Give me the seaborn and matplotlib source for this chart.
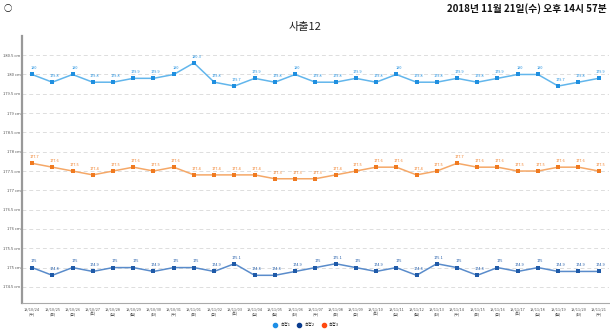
import matplotlib
matplotlib.use("Agg")
import matplotlib.pyplot as plt
import seaborn as sns
import pandas as pd
import numpy as np

dates = ["18/10/24\n(수)", "18/10/25\n(목)", "18/10/26\n(금)", "18/10/27\n(토)", "18/10/28\n(일)",
         "18/10/29\n(월)", "18/10/30\n(화)", "18/10/31\n(수)", "18/11/01\n(목)", "18/11/02\n(금)",
         "18/11/03\n(토)", "18/11/04\n(일)", "18/11/05\n(월)", "18/11/06\n(화)", "18/11/07\n(수)",
         "18/11/08\n(목)", "18/11/09\n(금)", "18/11/10\n(토)", "18/11/11\n(일)", "18/11/12\n(월)",
         "18/11/13\n(화)", "18/11/14\n(수)", "18/11/15\n(목)", "18/11/16\n(금)", "18/11/17\n(토)",
         "18/11/18\n(일)", "18/11/19\n(월)", "18/11/20\n(화)", "18/11/21\n(수)"]
series_names = ["측정1", "측정2", "측정3"]
s1 = [180, 179.8, 180, 179.8, 179.8, 179.9, 179.9, 180, 180.3, 179.8, 179.7, 179.9, 179.8, 180, 179.8,
      179.8, 179.9, 179.8, 180, 179.8, 179.8, 179.9, 179.8, 179.9, 180, 180, 179.7, 179.8, 179.9]
s2 = [175, 174.8, 175, 174.9, 175, 175, 174.9, 175, 175, 174.9, 175.1, 174.8, 174.8, 174.9, 175,
      175.1, 175, 174.9, 175, 174.8, 175.1, 175, 174.8, 175, 174.9, 175, 174.9, 174.9, 174.9]
s3 = [177.7, 177.6, 177.5, 177.4, 177.5, 177.6, 177.5, 177.6, 177.4, 177.4, 177.4, 177.4, 177.3, 177.3, 177.3,
      177.4, 177.5, 177.6, 177.6, 177.4, 177.5, 177.7, 177.6, 177.6, 177.5, 177.5, 177.6, 177.6, 177.5]
y_ticks = [174.5, 175, 175.5, 176, 176.5, 177, 177.5, 178, 178.5, 179, 179.5, 180, 180.5]

sns.set_style("white")
plt.rcParams['font.family'] = ['Noto Sans CJK KR', 'DejaVu Sans']

n = len(dates)
df = pd.DataFrame({
    "x": list(range(n)) * 3,
    "value": s1 + s2 + s3,
    "series": [series_names[0]] * n + [series_names[1]] * n + [series_names[2]] * n,
})

line_colors = {"측정1": "#62b6ec", "측정2": "#5a8ccb", "측정3": "#f5a868"}
marker_colors = {"측정1": "#1f8fe0", "측정2": "#1f5aa8", "측정3": "#f07a20"}
legend_colors = ["#1e8fe6", "#0b3d8f", "#ff4a10"]

fig = plt.figure(figsize=(6.1, 3.32), dpi=100)
ax = fig.add_axes([0.036, 0.087, 0.962, 0.805])

sns.lineplot(data=df, x="x", y="value", hue="series", palette=line_colors, ax=ax,
             linewidth=1.1, legend=False)
for name in series_names:
    sub = df[df["series"] == name]
    sns.scatterplot(data=sub, x="x", y="value", color=marker_colors[name], ax=ax,
                    s=6, marker="s", linewidth=0, legend=False, zorder=5)
    for xv, yv in zip(sub["x"], sub["value"]):
        txt = f"{yv:g}"
        ax.annotate(txt, (xv, yv), xytext=(1.5, 3), textcoords="offset points",
                    fontsize=2.8, color=marker_colors[name], ha="center", va="bottom")

ax.set_xlim(-0.5, n - 0.5)
ax.set_ylim(174.08, 181)
ax.set_yticks(y_ticks)
ax.set_yticklabels([f"{t:g} cm" for t in y_ticks], fontsize=3, color="#555555")
ax.set_xticks(range(n))
ax.set_xticklabels(dates, fontsize=2.8, color="#555555")
ax.set_xticks(np.arange(-0.5, n, 1), minor=True)
ax.tick_params(axis="x", which="major", length=0, pad=3)
ax.tick_params(axis="x", which="minor", length=2, color="#888888", width=0.5)
ax.tick_params(axis="y", length=0, pad=1)
ax.yaxis.grid(True, linestyle=(0, (4, 3)), color="#dddddd", linewidth=0.7)
ax.set_xlabel("")
ax.set_ylabel("")
for side in ["top", "right"]:
    ax.spines[side].set_visible(False)
ax.spines["left"].set_color("#999999")
ax.spines["left"].set_linewidth(1.6)
ax.spines["bottom"].set_color("#aaaaaa")
ax.spines["bottom"].set_linewidth(0.8)

fig.text(0.5, 0.918, "사출12", ha="center", va="center", fontsize=8, color="#222222")
fig.text(0.995, 0.975, "2018년 11월 21일(수) 오후 14시 57분", ha="right", va="center",
         fontsize=7, fontweight="bold", color="#111111")
fig.text(0.013, 0.975, "○", ha="center", va="center", fontsize=6, fontweight="bold", color="#111111")

handles = [plt.Line2D([], [], marker="o", linestyle="", color=c, markersize=3) for c in legend_colors]
fig.legend(handles, series_names, loc="center", bbox_to_anchor=(0.5, 0.02), ncol=3,
           fontsize=3, frameon=False, handletextpad=0.2, columnspacing=1.2)

fig.savefig("out.png", dpi=100)
